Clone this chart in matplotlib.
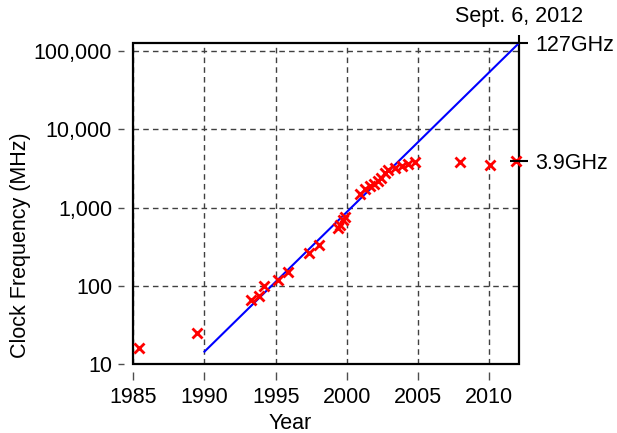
import matplotlib
matplotlib.use('Agg')
import matplotlib.pyplot as plt
from matplotlib.patches import Rectangle

plt.rcParams['font.family'] = ['Liberation Sans', 'DejaVu Sans']

# processor clock speeds (year, MHz)
years = [1985.4, 1989.5, 1993.3, 1993.8, 1994.2, 1995.2, 1995.9, 1997.35, 1998.05,
         1999.35, 1999.55, 1999.75, 1999.9, 2000.9, 2001.25, 2001.6, 2001.9, 2002.2,
         2002.4, 2002.65, 2002.9, 2003.35, 2003.85, 2004.3, 2004.8, 2007.95, 2010.05, 2011.9]
mhz = [16, 25, 66, 75, 100, 120, 150, 266, 333,
       550, 600, 700, 750, 1500, 1700, 1900, 2000, 2200,
       2400, 2800, 3000, 3200, 3400, 3600, 3800, 3800, 3500, 3900]

# exponential trend line
trend_years = [1990, 2012.12]
trend_mhz = [14.5, 127000]

x_ticks = [1985, 1990, 1995, 2000, 2005, 2010]
y_ticks = [10, 100, 1000, 10000, 100000]
y_labels = ['10', '100', '1,000', '10,000', '100,000']
right_ticks = [127000, 3900]
right_labels = ['127GHz', '3.9GHz']
top_ticks = [2012.12]
top_labels = ['Sept. 6, 2012']

fs = 15.5
fig = plt.figure(figsize=(6.17, 4.33), dpi=100)
ax = fig.add_axes([0.2160, 0.1587, 0.6258, 0.7427])

ax.set_yscale('log')
ax.set_xlim(1985, 2012.12)
ax.set_ylim(10, 127000)

ax.plot(trend_years, trend_mhz, color='#0000ff', lw=1.5, zorder=3)
ax.plot(years, mhz, linestyle='none', marker='x', color='#ff0000', ms=6.5, mew=2, zorder=4, clip_on=False)

ax.set_xticks(x_ticks)
ax.set_yticks(y_ticks)
ax.set_yticklabels(y_labels)
ax.minorticks_off()
ax.grid(True, color='0.25', linestyle=(0, (4, 3)), lw=1)

# ticks sit a little away from the frame
ax.spines['left'].set_position(('outward', 6.7))
ax.spines['bottom'].set_position(('outward', 5.8))
for s in ax.spines.values():
	s.set_color('none')
ax.tick_params(axis='y', direction='out', length=4.3, width=1, color='0.3', pad=4.3, labelsize=fs)
ax.tick_params(axis='x', direction='out', length=5.8, width=1, color='0.3', pad=5, labelsize=fs)

ax.add_patch(Rectangle((0, 0), 1, 1, transform=ax.transAxes, fill=False,
                       ec='black', lw=1.6, clip_on=False, zorder=2.5))

ax.set_xlabel('Year', fontsize=fs)
ax.set_ylabel('Clock Frequency (MHz)', fontsize=fs)
ax.xaxis.set_label_coords(0.406, -0.150)
ax.yaxis.set_label_coords(-0.264, 0.371)

# right side annotations
ax2 = ax.twinx()
ax2.set_yscale('log')
ax2.set_ylim(10, 127000)
ax2.set_yticks(right_ticks)
ax2.set_yticklabels(right_labels)
ax2.minorticks_off()
ax2.tick_params(axis='y', direction='inout', length=13, width=1.5, color='black', pad=5, labelsize=fs)
for s in ax2.spines.values():
	s.set_visible(False)

# top annotation
ax3 = ax.twiny()
ax3.set_xlim(1985, 2012.12)
ax3.set_xticks(top_ticks)
ax3.set_xticklabels(top_labels)
ax3.minorticks_off()
ax3.tick_params(axis='x', direction='out', length=6, width=1.5, color='black', pad=5, labelsize=fs)
for s in ax3.spines.values():
	s.set_visible(False)

fig.savefig('out.png', dpi=100)
